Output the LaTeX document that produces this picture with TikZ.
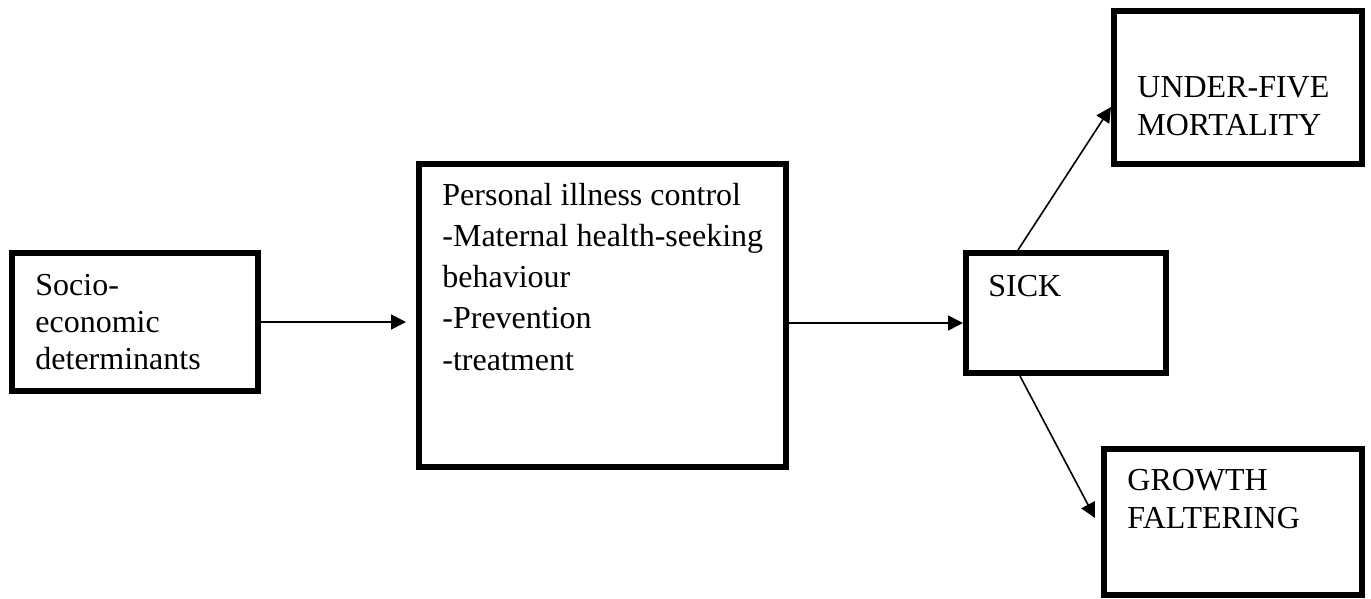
\documentclass[tikz,border=0pt]{standalone}
\usepackage{fontspec}
\setmainfont{Liberation Serif}
\usetikzlibrary{arrows.meta}

\begin{document}
\begin{tikzpicture}[x=0.5pt,y=-0.5pt]
  \tikzstyle{box}=[draw,line width=3pt,rectangle,inner sep=0pt]
  \tikzstyle{txt}=[anchor=base west,align=left,inner sep=0pt,
                   font=\fontsize{16pt}{18.5pt}\selectfont]
  \tikzstyle{link}=[line width=0.8pt,-{Triangle[length=7.5pt,width=7.5pt]}]
  \useasboundingbox (0,0) rectangle (1371,599);
  \node (socio) [box,minimum width=123pt,minimum height=69pt] at (135,322) {};
  \node (personal) [box,minimum width=183.5pt,minimum height=151.5pt] at (602.5,315.5) {};
  \node (sick) [box,minimum width=100pt,minimum height=60pt] at (1066,313) {};
  \node (under) [box,minimum width=124pt,minimum height=76.5pt] at (1238,87.5) {};
  \node (growth) [box,minimum width=129pt,minimum height=73pt] at (1233,522) {};
  \node (sociotext) [txt] at (35,369) {Socio-\\economic\\determinants};
  \node (personaltext) [txt,font=\fontsize{16pt}{20.6pt}\selectfont] at (442,370)
       {Personal illness control\\-Maternal health-seeking\\behaviour\\-Prevention\\-treatment};
  \node (sicktext) [txt] at (988,296) {SICK};
  \node (undertext) [txt,font=\fontsize{16pt}{19pt}\selectfont] at (1137,135) {UNDER-FIVE\\MORTALITY};
  \node (growthtext) [txt,font=\fontsize{16pt}{19pt}\selectfont] at (1127,528) {GROWTH\\FALTERING};
  \draw[link,shorten >=5pt] (socio.east) -- (socio.east -| personal.west);
  \draw[link] ([yshift=-3.75pt]personal.east) -- ([yshift=-5pt]sick.west);
  \draw[link] ([xshift=-24pt]sick.north) -- ([yshift=-9.75pt]under.west);
  \draw[link] ([xshift=-23pt]sick.south) -- ([xshift=-3pt,yshift=2pt]growth.west);
\end{tikzpicture}
\end{document}
